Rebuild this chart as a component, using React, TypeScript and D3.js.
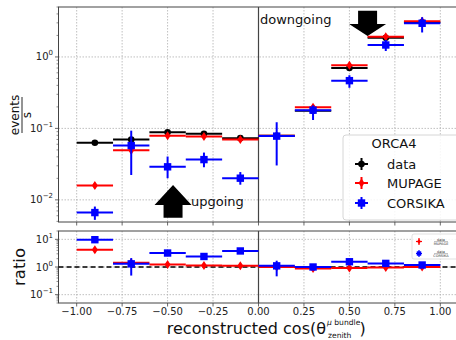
import React from 'react';
import * as d3 from 'd3';

// bin centres of reconstructed cos(zenith), width 0.2
const bins = [-0.9, -0.7, -0.5, -0.3, -0.1, 0.1, 0.3, 0.5, 0.7, 0.9];
const halfBin = 0.1;

// rates in events / s
const dataRate = [0.063, 0.07, 0.088, 0.084, 0.073, 0.079, 0.177, 0.7, 1.85, 3.05];
const dataErr = [0.002, 0.002, 0.002, 0.002, 0.002, 0.002, 0.004, 0.015, 0.03, 0.05];
const mupageRate = [0.0159, 0.0495, 0.079, 0.077, 0.07, 0.079, 0.198, 0.766, 1.92, 3.16];
const mupageErr = [0.0014, 0.005, 0.004, 0.004, 0.004, 0.004, 0.014, 0.05, 0.12, 0.18];
const corsikaRate = [0.00664, 0.0575, 0.029, 0.0366, 0.0201, 0.078, 0.18, 0.466, 1.47, 2.96];
const corsikaLo = [0.00525, 0.0223, 0.0201, 0.0286, 0.0163, 0.0303, 0.131, 0.37, 1.21, 2.2];
const corsikaHi = [0.00806, 0.093, 0.0404, 0.0459, 0.0245, 0.122, 0.21, 0.555, 1.73, 3.6];

// ratios data / MC
const ratioMupage = [4.2, 1.43, 1.24, 1.14, 1.11, 1.0, 0.89, 0.92, 0.95, 1.0];
const ratioMupageLo = [3.3, 1.1, 1.08, 1.0, 0.97, 0.9, 0.8, 0.84, 0.87, 0.92];
const ratioMupageHi = [5.3, 1.85, 1.42, 1.3, 1.27, 1.1, 0.98, 1.0, 1.03, 1.08];
const ratioCorsika = [9.7, 1.3, 3.2, 2.4, 3.8, 1.1, 1.0, 1.55, 1.35, 1.18];
const ratioCorsikaLo = [8.0, 0.49, 2.5, 2.0, 3.2, 0.46, 0.82, 1.32, 1.17, 0.97];
const ratioCorsikaHi = [11.5, 2.1, 4.0, 2.9, 4.6, 1.69, 1.2, 1.8, 1.55, 1.4];

const xTicks = [-1, -0.75, -0.5, -0.25, 0, 0.25, 0.5, 0.75, 1];
const topDecades = [-2, -1, 0];
const botDecades = [-1, 0, 1];

const W = 456;
const H = 340;
const font = 'DejaVu Sans, sans-serif';

const x = d3.scaleLinear().domain([-1.1, 1.1]).range([58.5, 458.5]);
const yTop = d3.scaleLog().domain([0.0049, 5.0]).range([222, 7]);
const yBot = d3.scaleLog().domain([0.05, 20]).range([303, 231]);

const fmtX = (v: number) => d3.format('.2f')(v).replace('-', '\u2212');

function minorTicks(scale: d3.ScaleLogarithmic<number, number>) {
  const [a, b] = scale.domain();
  const out: number[] = [];
  for (let e = Math.floor(Math.log10(a)); e <= Math.ceil(Math.log10(b)); e++) {
    for (let m = 2; m <= 9; m++) {
      const v = m * Math.pow(10, e);
      if (v >= a && v <= b) out.push(v);
    }
  }
  return out;
}

const Marker = ({ kind, cx, cy }: { kind: string; cx: number; cy: number }) => {
  if (kind === 'circle') return <circle cx={cx} cy={cy} r={3.3} fill="black" />;
  if (kind === 'diamond')
    return <path d={`M${cx},${cy - 4.5}L${cx + 3},${cy}L${cx},${cy + 4.5}L${cx - 3},${cy}Z`} fill="red" />;
  return <rect x={cx - 3.7} y={cy - 3.7} width={7.4} height={7.4} fill="blue" />;
};

const Series = ({ yScale, vals, lo, hi, color, kind, lw }: any) => (
  <g>
    {bins.map((b, i) => (
      <g key={i}>
        <line x1={x(b - halfBin)} x2={x(b + halfBin)} y1={yScale(vals[i])} y2={yScale(vals[i])} stroke={color} strokeWidth={lw} />
        <line x1={x(b)} x2={x(b)} y1={yScale(lo[i])} y2={yScale(hi[i])} stroke={color} strokeWidth={lw} />
        <Marker kind={kind} cx={x(b)} cy={yScale(vals[i])} />
      </g>
    ))}
  </g>
);

const LogTickLabel = ({ e, y, xPos }: { e: number; y: number; xPos: number }) => (
  <text x={xPos} y={y + 3.5} textAnchor="end" fontSize={10} fill="#222" fontFamily={font}>
    10
    <tspan dy={-5} fontSize={7}>{e < 0 ? `\u2212${-e}` : `${e}`}</tspan>
  </text>
);

const Panel = ({ yScale, decades, top, bottom }: any) => (
  <g>
    {xTicks.map((t) => (
      <line key={t} x1={x(t)} x2={x(t)} y1={top} y2={bottom} stroke="#b0b0b0" strokeWidth={0.8} strokeDasharray="1.5,1.5" />
    ))}
    {decades.map((e: number) => (
      <line key={e} x1={58.5} x2={W} y1={yScale(Math.pow(10, e))} y2={yScale(Math.pow(10, e))} stroke="#b0b0b0" strokeWidth={0.8} strokeDasharray="1.5,1.5" />
    ))}
    <line x1={x(0)} x2={x(0)} y1={top} y2={bottom} stroke="#444" strokeWidth={1.2} />
    <rect x={58.5} y={top} width={400} height={bottom - top} fill="none" stroke="#444" strokeWidth={1} />
    {xTicks.map((t) => (
      <line key={t} x1={x(t)} x2={x(t)} y1={bottom} y2={bottom + 3.5} stroke="#444" strokeWidth={0.8} />
    ))}
    {decades.map((e: number) => (
      <g key={e}>
        <line x1={55} x2={58.5} y1={yScale(Math.pow(10, e))} y2={yScale(Math.pow(10, e))} stroke="#444" strokeWidth={0.8} />
        <LogTickLabel e={e} y={yScale(Math.pow(10, e))} xPos={53} />
      </g>
    ))}
    {minorTicks(yScale).map((v) => (
      <line key={v} x1={56.5} x2={58.5} y1={yScale(v)} y2={yScale(v)} stroke="#444" strokeWidth={0.6} />
    ))}
  </g>
);

export default function App() {
  const ax = x(0.6);
  const ux = x(-0.47);
  const downArrow = [
    [ax - 9.5, yTop(4.44)], [ax + 9.5, yTop(4.44)], [ax + 9.5, yTop(2.9)], [ax + 18.5, yTop(2.9)],
    [ax, yTop(1.97)], [ax - 18.5, yTop(2.9)], [ax - 9.5, yTop(2.9)],
  ];
  const upArrow = [
    [ux - 9.5, yTop(0.0056)], [ux + 9.5, yTop(0.0056)], [ux + 9.5, yTop(0.0085)], [ux + 18.5, yTop(0.0085)],
    [ux, yTop(0.0162)], [ux - 18.5, yTop(0.0085)], [ux - 9.5, yTop(0.0085)],
  ];
  return (
    <svg width={W} height={H} style={{ position: 'absolute', left: 0, top: 0, background: 'white' }} fontFamily={font}>
      <rect width={W} height={H} fill="white" />
      <Panel yScale={yTop} decades={topDecades} top={7} bottom={222} />
      <Series yScale={yTop} vals={dataRate} lo={dataRate.map((v, i) => v - dataErr[i])} hi={dataRate.map((v, i) => v + dataErr[i])} color="black" kind="circle" lw={2} />
      <Series yScale={yTop} vals={mupageRate} lo={mupageRate.map((v, i) => v - mupageErr[i])} hi={mupageRate.map((v, i) => v + mupageErr[i])} color="red" kind="diamond" lw={2} />
      <Series yScale={yTop} vals={corsikaRate} lo={corsikaLo} hi={corsikaHi} color="blue" kind="square" lw={2} />

      <polygon points={downArrow.map((p) => p.join(',')).join(' ')} fill="black" />
      <polygon points={upArrow.map((p) => p.join(',')).join(' ')} fill="black" />
      <text x={260} y={24} fontSize={13} fill="#111">downgoing</text>
      <text x={191} y={206} fontSize={13} fill="#111">upgoing</text>

      {/* legend */}
      <rect x={343} y={135} width={120} height={85} rx={3} fill="white" fillOpacity={0.85} stroke="#ccc" strokeWidth={0.8} />
      <text x={394} y={148} fontSize={13} textAnchor="middle" fill="#111">ORCA4</text>
      {[
        { label: 'data', kind: 'circle', color: 'black', y: 164 },
        { label: 'MUPAGE', kind: 'diamond', color: 'red', y: 183 },
        { label: 'CORSIKA', kind: 'square', color: 'blue', y: 203 },
      ].map((d) => (
        <g key={d.label}>
          <line x1={355} x2={368} y1={d.y} y2={d.y} stroke={d.color} strokeWidth={2} />
          <line x1={361.5} x2={361.5} y1={d.y - 6} y2={d.y + 6} stroke={d.color} strokeWidth={2} />
          <Marker kind={d.kind} cx={361.5} cy={d.y} />
          <text x={387} y={d.y + 4.5} fontSize={13} fill="#111">{d.label}</text>
        </g>
      ))}

      {/* y label */}
      <g transform="translate(22,115) rotate(-90)">
        <text x={0} y={-3} fontSize={12} textAnchor="middle" fill="#111">events</text>
        <line x1={-18} x2={18} y1={0} y2={0} stroke="#111" strokeWidth={0.9} />
        <text x={0} y={9} fontSize={12} textAnchor="middle" fill="#111">s</text>
      </g>

      {/* ratio panel */}
      <Panel yScale={yBot} decades={botDecades} top={231} bottom={303} />
      <line x1={58.5} x2={W} y1={yBot(1)} y2={yBot(1)} stroke="black" strokeWidth={1.5} strokeDasharray="5,3" />
      <Series yScale={yBot} vals={ratioMupage} lo={ratioMupageLo} hi={ratioMupageHi} color="red" kind="diamond" lw={2} />
      <Series yScale={yBot} vals={ratioCorsika} lo={ratioCorsikaLo} hi={ratioCorsikaHi} color="blue" kind="square" lw={2} />

      <rect x={412} y={234} width={50} height={25} rx={2} fill="white" fillOpacity={0.85} stroke="#ccc" strokeWidth={0.6} />
      {[
        { den: 'MUPAGE', kind: 'diamond', color: 'red', y: 241.5 },
        { den: 'CORSIKA', kind: 'square', color: 'blue', y: 253.5 },
      ].map((d) => (
        <g key={d.den}>
          <line x1={416} x2={422} y1={d.y} y2={d.y} stroke={d.color} strokeWidth={1.2} />
          <line x1={419} x2={419} y1={d.y - 3.5} y2={d.y + 3.5} stroke={d.color} strokeWidth={1.2} />
          <g transform={`translate(419,${d.y}) scale(0.6) translate(-419,${-d.y})`}>
            <Marker kind={d.kind} cx={419} cy={d.y} />
          </g>
          <text x={441} y={d.y - 1} fontSize={3.5} textAnchor="middle" fill="#333">data</text>
          <line x1={434} x2={448} y1={d.y} y2={d.y} stroke="#333" strokeWidth={0.3} />
          <text x={441} y={d.y + 3.5} fontSize={3.5} textAnchor="middle" fill="#333">{d.den}</text>
        </g>
      ))}

      <text transform="translate(25,267) rotate(-90)" textAnchor="middle" fontSize={16.5} fill="#111">ratio</text>

      {xTicks.map((t) => (
        <text key={t} x={x(t)} y={314.5} textAnchor="middle" fontSize={10} fill="#222">{fmtX(t)}</text>
      ))}

      <text x={326} y={334} textAnchor="end" fontSize={16} fill="#111">reconstructed cos(θ</text>
      <text x={327} y={324.5} fontSize={7.6} fontStyle="italic" fill="#111">μ<tspan fontStyle="normal"> bundle</tspan></text>
      <text x={328} y={337.5} fontSize={7.6} fill="#111">zenith</text>
      <text x={359.5} y={334} fontSize={16} fill="#111">)</text>
    </svg>
  );
}
